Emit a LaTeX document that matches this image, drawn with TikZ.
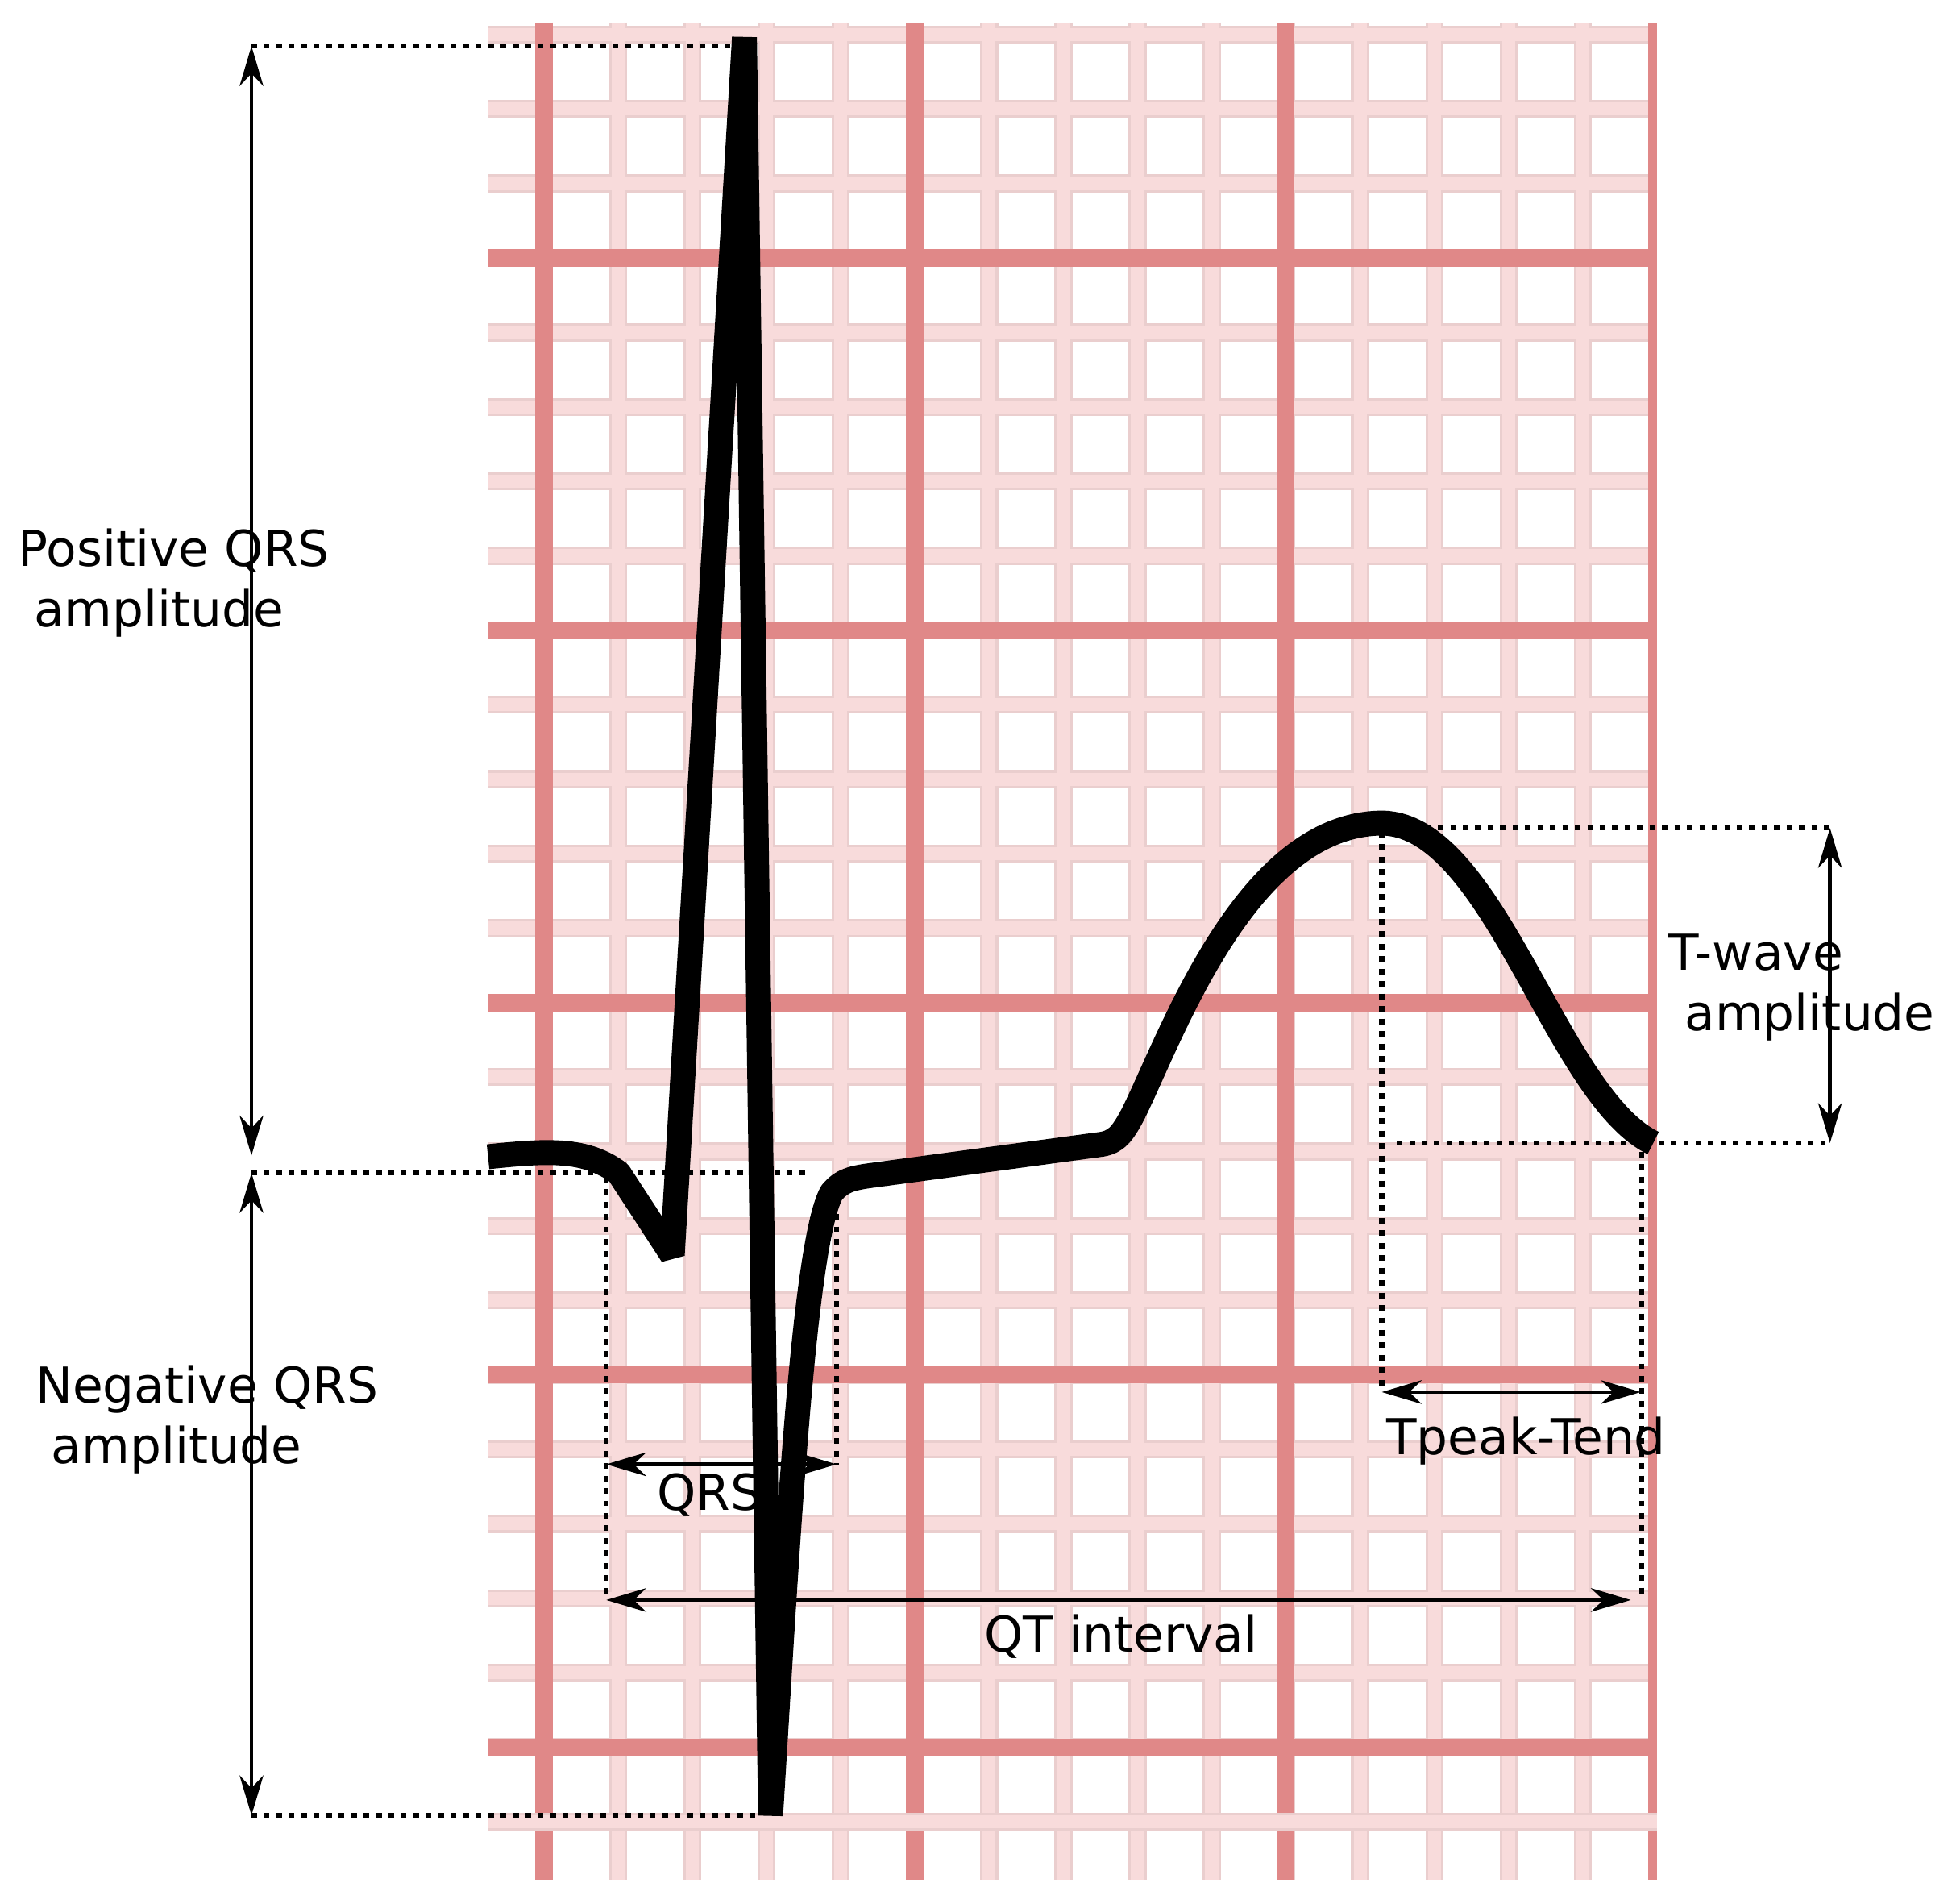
\documentclass[tikz,border=0pt]{standalone}
\usepackage{fontspec}
\setmainfont{DejaVu Sans}
\usetikzlibrary{arrows.meta}
\definecolor{gmajor}{RGB}{224,136,136}
\definecolor{gminor}{RGB}{248,219,219}
\definecolor{gedge}{RGB}{234,206,206}
\begin{document}
\begin{tikzpicture}[x=0.01cm,y=-0.01cm,
  lbl/.style={font=\fontsize{11.3pt}{13.8pt}\selectfont, inner sep=0pt, anchor=base west},
  dim/.style={line width=0.03cm, >={Stealth[length=0.32cm,width=0.19cm,inset=0.10cm]}, <->},
  guide/.style={line width=0.04cm, dash pattern=on 0.045cm off 0.055cm},
  trace/.style={line width=0.20cm, line join=bevel},
  minedge/.style={line width=0.145cm, gedge},
  minfill/.style={line width=0.105cm, gminor},
  majorline/.style={line width=0.14cm, gmajor}]
\useasboundingbox (0,0) rectangle (1568,1529);
\fill[white] (0,0) rectangle (1568,1529);
% ---- grid ----
\begin{scope}
\clip (392,18) rectangle (1331,1510);
\foreach \k in {0,...,24}{\draw[minedge] (392,{27.8+59.8*\k}) -- (1331,{27.8+59.8*\k});}
\foreach \j in {0,...,15}{\draw[minedge] ({437+59.6*\j},18) -- ({437+59.6*\j},1510);}
\foreach \k in {0,...,24}{\draw[minfill] (392,{27.8+59.8*\k}) -- (1331,{27.8+59.8*\k});}
\foreach \j in {0,...,15}{\draw[minfill] ({437+59.6*\j},18) -- ({437+59.6*\j},1510);}
\foreach \j in {0,5,10,15}{\draw[majorline] ({437+59.6*\j},18) -- ({437+59.6*\j},1510);}
\foreach \k in {3,8,13,18,23}{\draw[majorline] (392,{27.8+59.8*\k}) -- (1331,{27.8+59.8*\k});}
\draw[minedge] (392,1463) -- (1331,1463);
\draw[minfill] (392,1463) -- (1331,1463);
\end{scope}
% ---- labels ----
\node[lbl] (posl) at (14,455) {\begin{tabular}[t]{@{}l@{}}Positive QRS\\\hspace*{0.318em}amplitude\end{tabular}};
\node[lbl] (negl) at (28,1127) {\begin{tabular}[t]{@{}l@{}}Negative QRS\\\hspace*{0.318em}amplitude\end{tabular}};
\node[lbl] (twl) at (1340,779) {\begin{tabular}[t]{@{}l@{}}T-wave\\\hspace*{0.318em}amplitude\end{tabular}};
\node[lbl] (qrsl) at (527,1213) {QRS};
\node[lbl] (qtl) at (790,1327) {QT interval};
\node[lbl] (tptel) at (1113,1168) {Tpeak-Tend};
% ---- coordinates ----
\coordinate (pTop) at (202,37);
\coordinate (pBot) at (202,928);
\coordinate (nTop) at (202,942);
\coordinate (nBot) at (202,1458);
\coordinate (Rdot) at (590,37);
\coordinate (Sdot) at (612,1458);
\coordinate (Jdot) at (650,942);
\coordinate (qrsLtop) at (487,945);
\coordinate (qrsRtop) at (672,955);
\coordinate (qrsL) at (487,1176);
\coordinate (qrsR) at (672,1176);
\coordinate (qtL) at (487,1285);
\coordinate (qtR) at (1310,1285);
\coordinate (tendTop) at (1319,925);
\coordinate (tendBot) at (1319,1285);
\coordinate (tpTop) at (1110,668);
\coordinate (tpL) at (1110,1118);
\coordinate (tpR) at (1318,1118);
\coordinate (taTop) at (1470,665);
\coordinate (taBot) at (1470,918);
\coordinate (taTopL) at (1115,665);
\coordinate (taBotL) at (1122,918);
% ---- guides ----
\draw[guide] (pTop) -- (Rdot);
\draw[guide] (nTop) -- (Jdot);
\draw[guide] (nBot) -- (Sdot);
\draw[guide] (qrsLtop) -- (qtL);
\draw[guide] (qrsRtop) -- (qrsR);
\draw[guide] (tendTop) -- (tendBot);
\draw[guide] (tpTop) -- (tpL);
\draw[guide] (taTopL) -- (taTop);
\draw[guide] (taBotL) -- (taBot);
% ---- dimension arrows ----
\draw[dim] (pTop) -- (pBot);
\draw[dim] (nTop) -- (nBot);
\draw[dim] (qrsL) -- (qrsR);
\draw[dim] (qtL) -- (qtR);
\draw[dim] (tpL) -- (tpR);
\draw[dim] (taTop) -- (taBot);
% ---- ECG trace ----
\draw[trace] (392,929) .. controls (440,924) and (470,922) .. (497,942) -- (540,1008) -- (598,30) -- (619,1458)
  .. controls (632,1250) and (645,1000) .. (668,958) .. controls (676,948) and (685,946) .. (700,944)
  -- (885,919) .. controls (897,917) and (902,910) .. (910,895)
  .. controls (940,835) and (1000,662) .. (1110,661) .. controls (1200,662) and (1250,880) .. (1328,918);
\end{tikzpicture}
\end{document}
